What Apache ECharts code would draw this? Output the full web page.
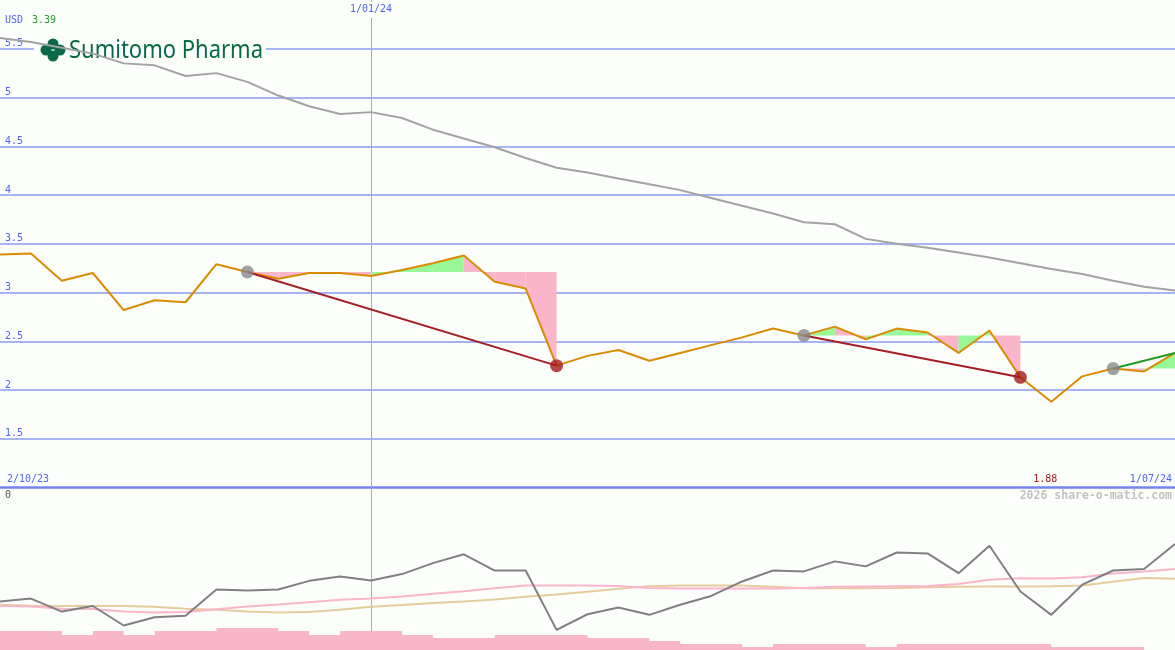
<!DOCTYPE html>
<html><head><meta charset="utf-8">
<script src="https://cdn.jsdelivr.net/npm/echarts@6/dist/echarts.min.js"></script>
<style>html,body{margin:0;padding:0;background:#fcfefc}#c{width:1175px;height:650px}</style>
</head><body><div id="c"></div>
<script>
// ---- data ----
const currency = 'USD';
const companyName = 'Sumitomo Pharma';
const watermark = '2026 share-o-matic.com';
const tickIndex = [0, 12, 38];
const tickDates = ['2/10/23', '1/01/24', '1/07/24'];
const price = [3.39, 3.40, 3.12, 3.20, 2.82, 2.92, 2.90, 3.29, 3.21, 3.14, 3.20, 3.20, 3.17, 3.23, 3.30, 3.38, 3.11, 3.04, 2.25, 2.35,
               2.41, 2.30, 2.38, 2.46, 2.54, 2.63, 2.56, 2.65, 2.52, 2.63, 2.59, 2.38, 2.61, 2.13, 1.88, 2.14, 2.22, 2.19, 2.38];
const movingAvg = [5.61, 5.57, 5.51, 5.45, 5.35, 5.33, 5.22, 5.25, 5.16, 5.02, 4.91, 4.83, 4.85, 4.79, 4.67, 4.58, 4.49, 4.38, 4.28, 4.23,
                   4.17, 4.11, 4.05, 3.97, 3.89, 3.81, 3.72, 3.70, 3.55, 3.50, 3.46, 3.41, 3.36, 3.30, 3.24, 3.19, 3.12, 3.06, 3.02];
const tradeEntry = [8, 26, 36];
const tradeEnd = [18, 33, 38];
const tradeExit = [18, 33];
const oscillator = [-38.6, -37.6, -42.0, -40.1, -46.7, -43.9, -43.4, -34.5, -34.9, -34.5, -31.6, -30.1, -31.5, -29.3, -25.6, -22.6, -28.1, -28.1, -48.2, -42.9,
                    -40.6, -43.1, -39.7, -36.7, -31.8, -28.1, -28.4, -25.0, -26.7, -22.0, -22.3, -29.0, -19.7, -35.2, -43.1, -32.9, -28.1, -27.6, -19.1];
const oscFast = [-40.1, -40.3, -41.0, -41.1, -42.0, -42.3, -42.1, -41.2, -40.3, -39.6, -38.8, -38.0, -37.6, -36.9, -36.0, -35.1, -34.1, -33.2, -33.2, -33.2,
                 -33.3, -34.0, -34.2, -34.2, -34.2, -34.2, -34.0, -33.6, -33.5, -33.4, -33.3, -32.7, -31.2, -30.7, -30.8, -30.4, -29.1, -28.4, -27.6];
const oscSlow = [-39.7, -40.0, -40.1, -40.1, -40.1, -40.4, -41.0, -41.4, -42.0, -42.3, -42.1, -41.4, -40.4, -39.8, -39.1, -38.6, -37.9, -37.0, -36.2, -35.3,
                 -34.3, -33.4, -33.2, -33.2, -33.2, -33.6, -34.1, -34.1, -34.1, -34.0, -33.8, -33.6, -33.5, -33.5, -33.4, -33.2, -31.9, -30.6, -30.9];
const volume = [19, 19, 15, 19, 15, 19, 19, 22, 22, 19, 15, 19, 19, 15, 12, 12, 15, 15, 15, 12,
                12, 9, 6, 6, 3, 6, 6, 6, 3, 6, 6, 6, 6, 6, 3, 3, 3, 0, 0];
const oscTicks = [0, -50];

// ---- build ----
const N = price.length;
const xy = arr => arr.map((v, i) => [i, v]);
const dateFor = v => { const k = tickIndex.indexOf(Math.round(v)); return k >= 0 ? tickDates[k] : ''; };
const minPrice = Math.min(...price);
const minIdx = price.indexOf(minPrice);
const mono = 'DejaVu Sans Mono';
const blue = '#5062f6';
const gridBlue = '#a6b4f4';
const vBlue = '#9aa8f6';
const BG = '#fcfefc';
const PINK = '#f9b5ca', GREEN = '#98f898';

const fillData = [];
tradeEntry.forEach((e, k) => {
  for (let i = e; i < tradeEnd[k]; i++) fillData.push([i, i + 1, price[e]]);
});

const tradeLines = tradeEntry.map((e, k) => ({
  type: 'line', xAxisIndex: 0, yAxisIndex: 0, z: 5, symbol: 'none', silent: true,
  data: [[e, price[e]], [tradeEnd[k], price[tradeEnd[k]]]],
  lineStyle: { width: 2, color: price[tradeEnd[k]] < price[e] ? '#a31f24' : '#229a22' }
}));

function vLine(yMin, yMax, z) {
  return {
    type: 'custom', z: z, silent: true, data: [[tickIndex[1]]], encode: { x: 0 },
    renderItem: (params, api) => {
      const a = api.coord([api.value(0), yMax]);
      const b = api.coord([api.value(0), yMin]);
      const x = Math.round(a[0]) + 0.5;
      return { type: 'line', shape: { x1: x, y1: a[1], x2: x, y2: b[1] }, style: { stroke: vBlue, lineWidth: 1 } };
    }
  };
}

const chart = echarts.init(document.getElementById('c'), null, { renderer: 'canvas' });
const option = {
  backgroundColor: BG,
  animation: false,
  grid: [
    { left: 0, right: 0, top: 0, height: 487.5 },
    { left: 0, right: 0, top: 487.5, height: 162.5 }
  ],
  xAxis: [
    { gridIndex: 0, type: 'value', min: 0, max: N - 1, position: 'bottom',
      axisLine: { show: true, onZero: false, lineStyle: { color: '#7384f0', width: 2.5 } },
      axisTick: { show: false }, splitLine: { show: false },
      axisLabel: { inside: true, customValues: [tickIndex[0], tickIndex[2]], formatter: dateFor,
        alignMinLabel: 'left', alignMaxLabel: 'right', padding: [0, 3, 0, 7], margin: 3,
        color: blue, fontFamily: mono, fontSize: 10 } },
    { gridIndex: 0, type: 'value', min: 0, max: N - 1, position: 'top', z: 10,
      axisLine: { show: false }, axisTick: { show: false }, splitLine: { show: false },
      axisLabel: { inside: true, customValues: [tickIndex[1]], formatter: dateFor, margin: 2,
        padding: [2, 2, 4, 2], backgroundColor: BG,
        color: blue, fontFamily: mono, fontSize: 10 } },
    { gridIndex: 1, type: 'value', min: 0, max: N - 1,
      axisLine: { show: false }, axisTick: { show: false }, axisLabel: { show: false }, splitLine: { show: false } }
  ],
  yAxis: [
    { gridIndex: 0, type: 'value', min: 1, max: 6, interval: 0.5,
      axisLine: { show: false }, axisTick: { show: false },
      splitLine: { show: true, showMaxLine: false, showMinLine: false, lineStyle: { color: gridBlue, width: 2 } },
      axisLabel: { inside: true, showMinLabel: false, showMaxLabel: false, verticalAlign: 'bottom',
        margin: 5, padding: [0, 0, 0, 0], color: blue, fontFamily: mono, fontSize: 10 } },
    { gridIndex: 1, type: 'value', min: -55, max: 0,
      axisLine: { show: false }, axisTick: { show: false }, splitLine: { show: false },
      axisLabel: { inside: true, customValues: oscTicks, verticalAlign: 'top', margin: 5,
        padding: [3, 0, 0, 0], color: '#555', fontFamily: mono, fontSize: 10 } },
    { gridIndex: 1, type: 'value', min: 0, max: 162.5, show: false }
  ],
  graphic: [
    { type: 'rect', z: 1, shape: { x: 34, y: 38, width: 232, height: 24 }, style: { fill: BG } },
    { type: 'circle', z: 1, shape: { cx: 53, cy: 44, r: 5.5 }, style: { fill: '#0a6a48' } },
    { type: 'circle', z: 1, shape: { cx: 46, cy: 50, r: 5.5 }, style: { fill: '#0a6a48' } },
    { type: 'circle', z: 1, shape: { cx: 60, cy: 50, r: 5.5 }, style: { fill: '#0a6a48' } },
    { type: 'circle', z: 1, shape: { cx: 53, cy: 56, r: 5.5 }, style: { fill: '#0a6a48' } },
    { type: 'text', z: 1, x: 69, y: 51, scaleX: 0.88,
      style: { text: companyName, fill: '#0a6a48', font: '25px "Noto Sans"', verticalAlign: 'middle' } },
    { type: 'text', z: 10, x: 5, y: 20,
      style: { text: '{a|' + currency + '}{b|' + price[0].toFixed(2) + '}', verticalAlign: 'middle',
        rich: { a: { fill: blue, fontFamily: mono, fontSize: 10 },
                b: { fill: '#2a9a2a', fontFamily: mono, fontSize: 10, padding: [0, 0, 0, 9] } } } },
    { type: 'text', z: 10, x: 1172, y: 496,
      style: { text: watermark, fill: '#c3c3c3', font: 'bold 11.5px "DejaVu Sans Mono"', align: 'right', verticalAlign: 'middle' } }
  ],
  series: [
    Object.assign(vLine(1, 6, 1), { xAxisIndex: 0, yAxisIndex: 0 }),
    { type: 'line', name: 'ma', xAxisIndex: 0, yAxisIndex: 0, z: 2, symbol: 'none', silent: true,
      data: xy(movingAvg), lineStyle: { color: '#a3a3a3', width: 2 } },
    { type: 'custom', xAxisIndex: 0, yAxisIndex: 0, z: 3, silent: true, data: fillData,
      encode: { x: [0, 1], y: 2 },
      renderItem: (params, api) => {
        const i0 = api.value(0), i1 = api.value(1), ref = api.value(2);
        const pts = [api.coord([i0, ref]), api.coord([i0, price[i0]]), api.coord([i1, price[i1]]), api.coord([i1, ref])];
        return { type: 'polygon', shape: { points: pts }, style: { fill: price[i1] > ref ? GREEN : PINK } };
      } },
    { type: 'line', name: 'price', xAxisIndex: 0, yAxisIndex: 0, z: 4, symbol: 'none', silent: true,
      data: xy(price), lineStyle: { color: '#d98c00', width: 2 },
      markPoint: { symbol: 'circle', symbolSize: 0, silent: true,
        label: { show: true, position: 'top', distance: 3, offset: [-6, 0], color: '#a01c1c', fontFamily: mono, fontSize: 10,
          formatter: () => minPrice.toFixed(2) },
        data: [{ coord: [minIdx, 1] }] } },
    ...tradeLines,
    { type: 'scatter', xAxisIndex: 0, yAxisIndex: 0, z: 6, silent: true, symbolSize: 13,
      itemStyle: { color: '#888888' }, data: tradeEntry.map(i => [i, price[i]]) },
    { type: 'scatter', xAxisIndex: 0, yAxisIndex: 0, z: 6, silent: true, symbolSize: 13,
      itemStyle: { color: '#a31c1c' }, data: tradeExit.map(i => [i, price[i]]) },
    Object.assign(vLine(-55, 0, 1), { xAxisIndex: 2, yAxisIndex: 1 }),
    { type: 'line', xAxisIndex: 2, yAxisIndex: 1, z: 2, symbol: 'none', silent: true,
      data: xy(oscSlow), lineStyle: { color: '#e4cc9c', width: 2 } },
    { type: 'line', xAxisIndex: 2, yAxisIndex: 1, z: 3, symbol: 'none', silent: true,
      data: xy(oscFast), lineStyle: { color: '#f9b5ca', width: 2 } },
    { type: 'line', xAxisIndex: 2, yAxisIndex: 1, z: 4, symbol: 'none', silent: true,
      data: xy(oscillator), lineStyle: { color: '#808080', width: 2 } },
    { type: 'line', xAxisIndex: 2, yAxisIndex: 2, z: 5, symbol: 'none', silent: true, step: 'end',
      data: xy(volume), lineStyle: { width: 0, color: PINK }, areaStyle: { color: PINK, opacity: 1 } }
  ]
};
chart.setOption(option);
</script></body></html>
